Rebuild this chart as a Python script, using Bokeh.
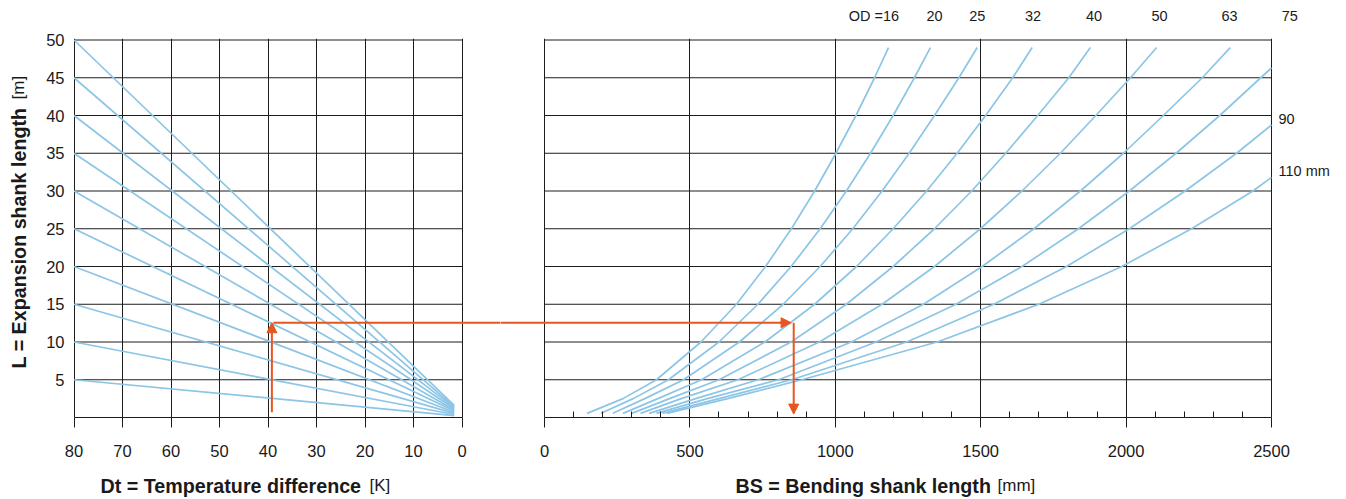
import math
from bokeh.plotting import figure
from bokeh.models import Range1d, FixedTicker, Arrow, NormalHead, ColumnDataSource, LinearAxis
from bokeh.core.properties import value
from bokeh.layouts import row, column
from bokeh.embed import file_html
from bokeh.resources import INLINE

# ---------------- data ----------------
dt_ticks = [80, 70, 60, 50, 40, 30, 20, 10, 0]
l_ticks = [5, 10, 15, 20, 25, 30, 35, 40, 45, 50]
bs_ticks = [0, 500, 1000, 1500, 2000, 2500]
bs_minor = [100, 200, 300, 400, 600, 700, 800, 900, 1100, 1200, 1300, 1400,
            1600, 1700, 1800, 1900, 2100, 2200, 2300, 2400]

# left nomogram lines: from Dt=80 to Dt=1.6
left_dt_start = 80
left_dt_end = 1.6
left_L_start = [5, 10, 15, 20, 25, 30, 35, 40, 45, 50]
left_L_end = [0.25, 0.4, 0.55, 0.7, 0.85, 1.0, 1.15, 1.3, 1.45, 1.6]

# right curves: bending shank length (mm) vs expansion shank length (m) per OD
L_top = [0.55, 2.5, 5, 10, 15, 20, 25, 30, 35, 40, 45, 49.0]
bs_od16 = [146, 270, 385, 538, 660, 760, 849, 929, 1002, 1071, 1135, 1183]
bs_od20 = [194, 305, 426, 600, 734, 848, 948, 1038, 1121, 1199, 1272, 1327]
bs_od25 = [235, 345, 478, 670, 821, 948, 1060, 1161, 1254, 1341, 1425, 1488]
bs_od32 = [270, 390, 540, 758, 929, 1073, 1199, 1314, 1419, 1517, 1610, 1677]
bs_od40 = [300, 430, 600, 848, 1038, 1199, 1341, 1469, 1586, 1696, 1803, 1877]
bs_od50 = [330, 470, 665, 945, 1161, 1341, 1499, 1642, 1774, 1896, 2015, 2105]
bs_od63 = [360, 520, 735, 1055, 1303, 1505, 1683, 1843, 1991, 2128, 2262, 2358]
L_od75 = [0.55, 2.5, 5, 10, 15, 20, 25, 30, 35, 40, 45, 46.3]
bs_od75 = [385, 560, 805, 1140, 1415, 1642, 1836, 2011, 2172, 2322, 2463, 2500]
L_od90 = [0.55, 2.5, 5, 10, 15, 20, 25, 30, 35, 38.75]
bs_od90 = [405, 600, 850, 1245, 1545, 1795, 2011, 2203, 2380, 2500]
L_od110 = [0.55, 2.5, 5, 10, 15, 20, 25, 30, 31.8]
bs_od110 = [421, 630, 885, 1350, 1700, 1985, 2225, 2436, 2500]

# curve labels
top_label_text = ["OD =16", "20", "25", "32", "40", "50", "63", "75"]
top_label_bs = [1133, 1341, 1488, 1680, 1890, 2115, 2356, 2563]
side_label_L = [39.5, 32.6]
side_label_text = ["90", "110 mm"]

# worked example (orange path)
ex_dt = 39.2
ex_dt_start_L = 0.7
ex_L = 12.55
ex_bs = 857
ex_bs_tip = 848
ex_bs_end_L = 0.45

# ---------------- style / geometry ----------------
BLUE = "#8cc5e6"
ORANGE = "#e8561f"
GRID = "#1c1c1c"
TXT = "#1a1a1a"
FONT = "Liberation Sans"
TICK_FS = "16.5px"
BOLD_FS = "19.7px"
REG_FS = "17px"

W = 1346
TOP_H = 28
MAIN_TOP = 10
FRAME_H = 379
MAIN_BOTTOM = 50
MAIN_H = MAIN_TOP + FRAME_H + MAIN_BOTTOM
BOT_H = 32
L_PX = 7.55
y_end = FRAME_H / L_PX
FRAME_BOTTOM_PAGE = TOP_H + MAIN_TOP + FRAME_H   # page y of the frames' bottom edge

YT_W = 35
SPLIT = 500                       # pixel where the two panels meet (inside the gap)
L_BORDER = 73 - YT_W
LW = SPLIT - YT_W
L_FRAME_W = LW - L_BORDER
DT_PX = 388.0 / 80
dt_start = 80 + 0.5 / DT_PX
dt_end = dt_start - L_FRAME_W / DT_PX

BS0_PX = 544
BS_PX = 727.0 / 2500
R_BORDER = 74
RW = W - SPLIT
R_FRAME_W = RW - R_BORDER
bs_start = -(BS0_PX - SPLIT) / BS_PX
bs_end = bs_start + R_FRAME_W / BS_PX


def style_axis(ax):
    ax.major_label_text_font = FONT
    ax.major_label_text_font_size = TICK_FS
    ax.major_label_text_color = TXT
    ax.axis_line_color = GRID
    ax.major_tick_line_color = GRID


def strip(width, height, xr, yr, top_border=0, bottom_border=0):
    s = figure(width=width, height=height, x_range=xr, y_range=yr, title=None,
               output_backend="svg", toolbar_location=None,
               x_axis_location=None, y_axis_location=None, min_border=0,
               min_border_top=top_border, min_border_bottom=bottom_border,
               outline_line_color=None)
    s.grid.visible = False
    return s


# ---------------- left figure ----------------
left = figure(width=LW, height=MAIN_H, x_range=Range1d(dt_start, dt_end), y_range=Range1d(0, y_end),
              title=None, output_backend="svg", toolbar_location=None,
              min_border_left=L_BORDER, min_border_right=0, min_border_top=MAIN_TOP,
              min_border_bottom=MAIN_BOTTOM, outline_line_color=None)
left.xaxis.ticker = FixedTicker(ticks=dt_ticks)
left.xaxis.bounds = (0, 80)
left.xaxis.major_tick_out = 10
left.xaxis.major_tick_in = 0
left.xaxis.minor_tick_line_color = None
left.xaxis.major_label_standoff = 17
style_axis(left.xaxis[0])
left.xgrid.ticker = FixedTicker(ticks=dt_ticks)
left.xgrid.grid_line_color = GRID
left.ygrid.visible = False
left.yaxis.ticker = FixedTicker(ticks=l_ticks)
left.yaxis.major_tick_out = 0
left.yaxis.major_tick_in = 0
left.yaxis.minor_tick_line_color = None
left.yaxis.major_label_standoff = 9
style_axis(left.yaxis[0])
left.yaxis.axis_line_color = None

hsrc = ColumnDataSource(dict(x0=[80] * len(l_ticks), x1=[0] * len(l_ticks), y=l_ticks))
left.segment(x0="x0", y0="y", x1="x1", y1="y", source=hsrc, line_color=GRID, line_width=1)

left.multi_line(xs=[[left_dt_start, left_dt_end] for _ in left_L_start],
                ys=[[a, b] for a, b in zip(left_L_start, left_L_end)],
                line_color=BLUE, line_width=1.7)

left.add_layout(Arrow(x_start=ex_dt, y_start=ex_dt_start_L, x_end=ex_dt, y_end=ex_L,
                      line_color=ORANGE, line_width=2,
                      end=NormalHead(size=10, fill_color=ORANGE, line_color=ORANGE)))
left.line([ex_dt - 0.3, dt_end - 5], [ex_L, ex_L], line_color=ORANGE, line_width=2)

# ---------------- right figure ----------------
right = figure(width=RW, height=MAIN_H, x_range=Range1d(bs_start, bs_end), y_range=Range1d(0, y_end),
               title=None, output_backend="svg", toolbar_location=None, y_axis_location=None,
               min_border_left=0, min_border_right=R_BORDER, min_border_top=MAIN_TOP,
               min_border_bottom=MAIN_BOTTOM, outline_line_color=None)
right.xaxis.ticker = FixedTicker(ticks=bs_ticks, minor_ticks=bs_minor)
right.xaxis.bounds = (0, 2500)
right.xaxis.major_tick_out = 10
right.xaxis.major_tick_in = 0
right.xaxis.minor_tick_in = 6
right.xaxis.minor_tick_out = 0
right.xaxis.minor_tick_line_color = GRID
right.xaxis.major_label_standoff = 17
style_axis(right.xaxis[0])
right.xgrid.ticker = FixedTicker(ticks=bs_ticks)
right.xgrid.grid_line_color = GRID
right.ygrid.visible = False

rsrc = ColumnDataSource(dict(x0=[0] * len(l_ticks), x1=[2500] * len(l_ticks), y=l_ticks))
right.segment(x0="x0", y0="y", x1="x1", y1="y", source=rsrc, line_color=GRID, line_width=1)

side_axis = LinearAxis(ticker=FixedTicker(ticks=side_label_L),
                       major_label_overrides=dict(zip(side_label_L, side_label_text)),
                       axis_line_color=None, major_tick_line_color=None, minor_tick_line_color=None,
                       major_tick_in=0, major_tick_out=0,
                       major_label_standoff=6, major_label_text_font=FONT,
                       major_label_text_font_size="14.5px", major_label_text_color=TXT)
right.add_layout(side_axis, "right")

curves_bs = [bs_od16, bs_od20, bs_od25, bs_od32, bs_od40, bs_od50, bs_od63, bs_od75, bs_od90, bs_od110]
curves_L = [L_top] * 7 + [L_od75, L_od90, L_od110]
for bs, L in zip(curves_bs, curves_L):
    right.line(bs, L, line_color=BLUE, line_width=1.7)

right.line([bs_start - 20, ex_bs_tip - 30], [ex_L, ex_L], line_color=ORANGE, line_width=2)
right.add_layout(Arrow(x_start=ex_bs_tip - 40, y_start=ex_L, x_end=ex_bs_tip, y_end=ex_L,
                       line_color=ORANGE, line_width=2,
                       end=NormalHead(size=10, fill_color=ORANGE, line_color=ORANGE)))
right.add_layout(Arrow(x_start=ex_bs, y_start=ex_L, x_end=ex_bs, y_end=ex_bs_end_L,
                       line_color=ORANGE, line_width=2,
                       end=NormalHead(size=10, fill_color=ORANGE, line_color=ORANGE)))

# ---------------- text strips ----------------
top = strip(W, TOP_H, Range1d(-BS0_PX / BS_PX, (W - BS0_PX) / BS_PX), Range1d(0, TOP_H))
top.text(x=top_label_bs, y=[TOP_H - 15.5] * len(top_label_bs), text=top_label_text,
         text_font=value(FONT), text_font_size=value("14.5px"), text_color=TXT,
         text_align="center", text_baseline="middle")

# y title strip: same vertical frame as the charts (y measured up from frame bottom, in px)
ytitle = strip(YT_W, MAIN_H, Range1d(0, YT_W), Range1d(0, FRAME_H),
               top_border=MAIN_TOP, bottom_border=MAIN_BOTTOM)
ytitle.text(x=[18.3], y=[FRAME_BOTTOM_PAGE - 368], text=["L = Expansion shank length"],
            angle=math.pi / 2,
            text_font=value(FONT), text_font_style="bold", text_font_size=value(BOLD_FS),
            text_color=TXT, text_align="left", text_baseline="middle")
ytitle.text(x=[18.3], y=[FRAME_BOTTOM_PAGE - 99], text=["[m]"], angle=math.pi / 2,
            text_font=value(FONT), text_font_size=value(REG_FS),
            text_color=TXT, text_align="left", text_baseline="middle")

bottom = strip(W, BOT_H, Range1d(0, W), Range1d(0, BOT_H))
mid_y = TOP_H + MAIN_H + BOT_H - 485
bottom.text(x=[100, 735], y=[mid_y, mid_y],
            text=["Dt = Temperature difference", "BS = Bending shank length"],
            text_font=value(FONT), text_font_style="bold", text_font_size=value(BOLD_FS),
            text_color=TXT, text_align="left", text_baseline="middle")
bottom.text(x=[369, 997], y=[mid_y, mid_y], text=["[K]", "[mm]"],
            text_font=value(FONT), text_font_size=value(REG_FS),
            text_color=TXT, text_align="left", text_baseline="middle")

p = column(top, row(ytitle, left, right), bottom)
open("out.html", "w").write(file_html(p, INLINE))
